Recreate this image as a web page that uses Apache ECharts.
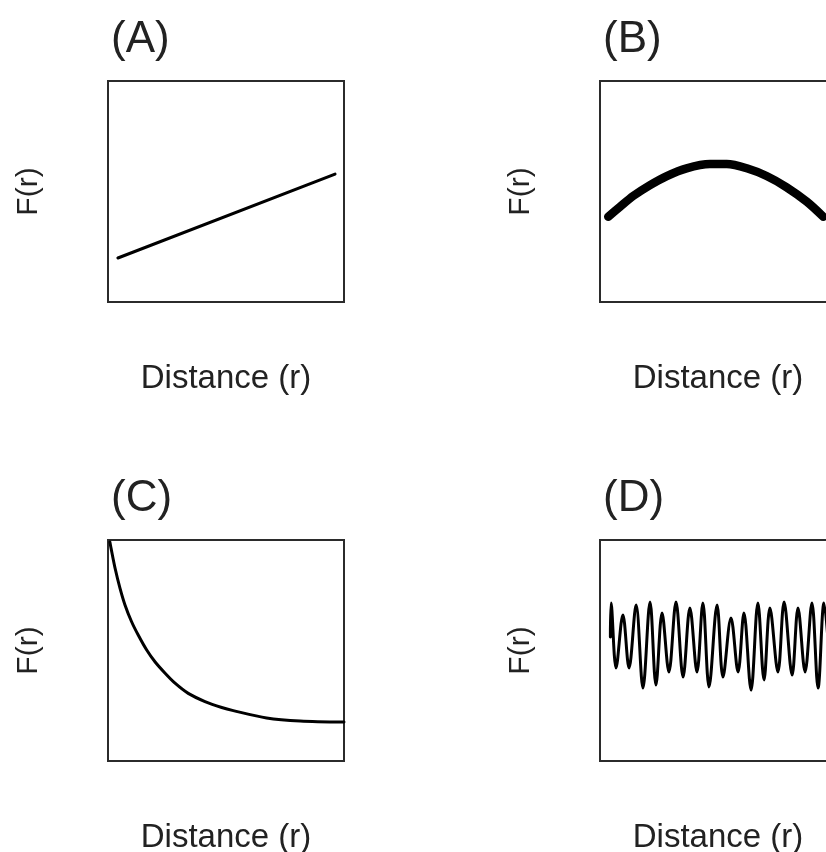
<!DOCTYPE html>
<html>
<head>
<meta charset="utf-8">
<title>F(r) panels</title>
<script src="https://cdn.jsdelivr.net/npm/echarts@6/dist/echarts.min.js"></script>
<style>
body{margin:0;background:#fff;}
#map{width:826px;height:852px;}
</style>
</head>
<body>
<div id="map"></div>
<script>
// panel titles and axis names
var panelNames = ['(A)', '(B)', '(C)', '(D)'];
var xName = 'Distance (r)';
var yName = 'F(r)';

// (A) straight rise
var aX = [4.2, 96.2];
var aY = [19.9, 57.9];

// (B) hump
var bX = [3.5, 8.5, 14.1, 21.2, 28.3, 36.7, 46.6, 53.7, 62.2, 70.6, 79.1, 87.6, 94.6];
var bY = [38.6, 43.1, 48.0, 52.9, 57.0, 60.5, 62.4, 62.4, 60.5, 57.0, 51.9, 45.4, 38.6];

// (C) decay
var cX = [0.8, 1.3, 3.0, 5.1, 7.2, 10.0, 12.8, 16.4, 19.9, 24.2, 28.4, 34.0, 41.1, 48.2, 53.1, 67.2, 81.4, 100];
var cY = [99.1, 96.2, 87.2, 78.1, 70.6, 63.0, 57.0, 50.2, 44.9, 39.7, 35.2, 30.6, 26.9, 24.2, 22.8, 19.5, 18.1, 17.6];

// (D) oscillation, peaks and troughs
var dX = [4.4, 4.7, 6.8, 9.7, 12.3, 15.3, 18.2, 21.2, 23.7, 26.3, 29.2, 32.2, 35.2, 38.1, 41.1, 43.6, 46.2,
	49.6, 52.1, 55.5, 58.5, 61.0, 64.0, 66.9, 69.5, 72.0, 75.4, 78.0, 81.4, 83.9, 86.9, 89.8, 92.4, 94.9, 97.5];
var dY = [56.1, 71.5, 42.1, 66.1, 42.1, 70.6, 33.0, 71.9, 34.4, 67.0, 40.3, 71.9, 38.0, 69.2, 40.3, 71.5, 33.5,
	70.6, 38.0, 64.7, 40.3, 67.0, 32.1, 71.5, 36.7, 69.2, 40.3, 71.9, 38.9, 69.2, 40.3, 71.5, 33.0, 71.5, 41.2];

function pairs(xs, ys)
{
	var res = [];
	for (var i = 0; i < xs.length; i++) res.push([xs[i], ys[i]]);
	return res;
}

var font = '"Liberation Sans", Arial, sans-serif';
var boxes = [
	{left: 108, top: 81}, {left: 600, top: 81},
	{left: 108, top: 540}, {left: 600, top: 540}
];
var lines = [
	{data: pairs(aX, aY), width: 3, smooth: false},
	{data: pairs(bX, bY), width: 8.5, smooth: 0.3},
	{data: pairs(cX, cY), width: 3, smooth: 0.3},
	{data: pairs(dX, dY), width: 3, smooth: 0.35}
];

var grids = [], xAxes = [], yAxes = [], series = [], titles = [];
for (var i = 0; i < 4; i++)
{
	// outerBoundsMode none: panel (B)/(D) boxes run past the right edge like the original
	grids.push({
		left: boxes[i].left, top: boxes[i].top, width: 236, height: 221,
		outerBoundsMode: 'none', containLabel: false,
		show: true, borderColor: '#2b2b2b', borderWidth: 2, backgroundColor: 'transparent'
	});
	var hidden = {
		axisLine: {show: false}, axisTick: {show: false},
		axisLabel: {show: false}, splitLine: {show: false}
	};
	xAxes.push(Object.assign({
		type: 'value', gridIndex: i, min: 0, max: 100,
		name: xName, nameLocation: 'middle', nameGap: 60,
		nameTextStyle: {fontFamily: font, fontSize: 33, color: '#222'}
	}, hidden));
	yAxes.push(Object.assign({
		type: 'value', gridIndex: i, min: 0, max: 100,
		name: yName, nameLocation: 'middle', nameGap: 64,
		nameTextStyle: {fontFamily: font, fontSize: 30, color: '#222'}
	}, hidden));
	series.push({
		type: 'line', xAxisIndex: i, yAxisIndex: i,
		data: lines[i].data, smooth: lines[i].smooth,
		showSymbol: false, symbol: 'none',
		lineStyle: {color: '#000', width: lines[i].width, cap: 'round', join: 'round'}
	});
	titles.push({
		text: panelNames[i], left: boxes[i].left + 3, top: boxes[i].top - 63, padding: 0,
		textStyle: {fontFamily: font, fontSize: 44, fontWeight: 'normal', color: '#222'}
	});
}

var myecharts = echarts.init(document.getElementById('map'));
myecharts.setOption({
	backgroundColor: '#fff',
	animation: false,
	title: titles,
	grid: grids,
	xAxis: xAxes,
	yAxis: yAxes,
	series: series
});
</script>
</body>
</html>
